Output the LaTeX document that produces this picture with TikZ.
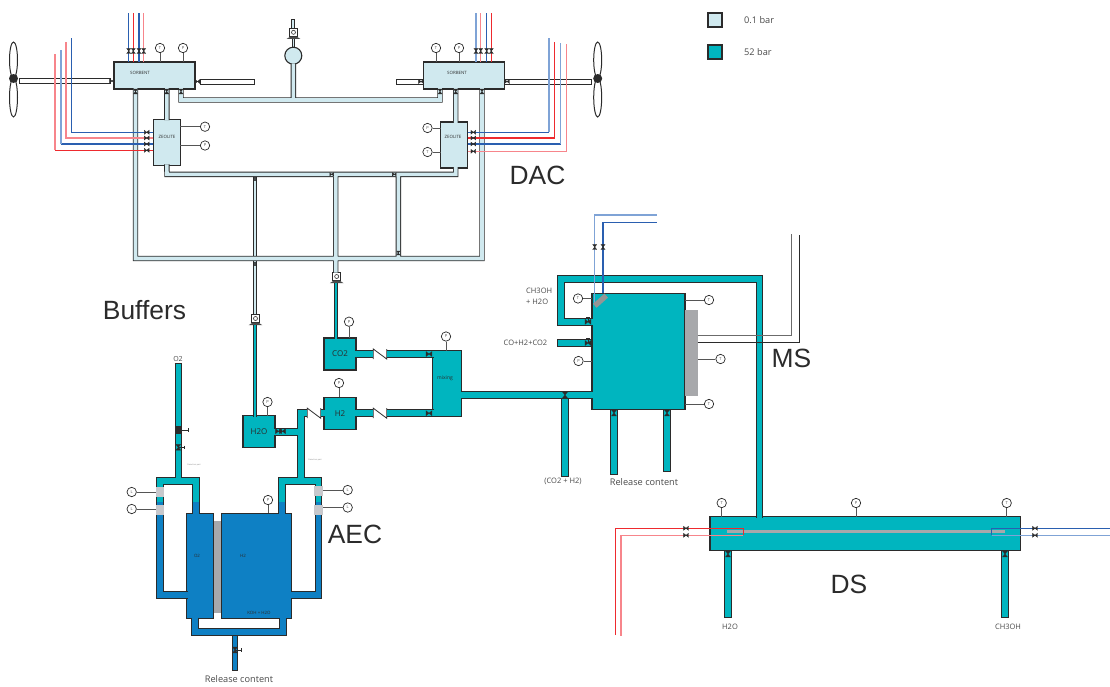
\documentclass[tikz,border=0pt]{standalone}
\usepackage{fontspec}
\setmainfont{Open Sans}
\newfontfamily\bigsans{Liberation Sans}
\usepackage{tikz}
\usetikzlibrary{shapes.geometric}

\definecolor{dark}{HTML}{2B2B2B}
\definecolor{palefill}{HTML}{D0E9EF}
\definecolor{tealfill}{HTML}{00B5BF}
\definecolor{cellblue}{HTML}{0E80C4}
\definecolor{platefill}{HTML}{A7A8AB}
\definecolor{bandfill}{HTML}{C7C8CC}
\definecolor{linkred}{HTML}{EE2A2E}
\definecolor{linkpink}{HTML}{F7858B}
\definecolor{linkblue}{HTML}{2A5FB0}
\definecolor{linksky}{HTML}{7FA3D6}
\definecolor{texthue}{HTML}{4A4A4A}

\tikzset{
  vessel/.style={rectangle, draw=dark, line width=1.1pt, inner sep=0pt, outer sep=0pt},
  palebox/.style={vessel, fill=palefill},
  tealbox/.style={vessel, fill=tealfill, text=dark, font=\fontsize{8}{9}\selectfont},
  bluebox/.style={vessel, fill=cellblue},
  shaftbox/.style={vessel, fill=white, line width=1pt},
  platebox/.style={rectangle, fill=platefill, inner sep=0pt, outer sep=0pt},
  bandbox/.style={rectangle, fill=bandfill, inner sep=0pt, outer sep=0pt},
  duct/.style={draw=dark, line width=1pt, double=#1, double distance=5.6pt},
  paleduct/.style={draw=dark, line width=0.9pt, double=palefill, double distance=3.6pt},
  palethin/.style={draw=dark, line width=0.8pt, double=palefill, double distance=1.6pt},
  tealthin/.style={draw=dark, line width=0.8pt, double=tealfill, double distance=2.8pt},
  bluethin/.style={draw=dark, line width=0.8pt, double=cellblue, double distance=3.6pt},
  tealdrain/.style={duct=tealfill, line cap=rect},
  sensor/.style={circle, draw=dark, line width=0.7pt, fill=white, minimum size=9.4pt, inner sep=0pt, font=\fontsize{4}{4}\selectfont, text=texthue},
  stem/.style={draw=dark!80, line width=0.8pt},
  checkbox/.style={rectangle, minimum width=13.4pt, minimum height=10pt, inner sep=0pt, outer sep=0pt},
  checkline/.style={draw=dark, line width=0.8pt},
  pumpbox/.style={rectangle, draw=dark, line width=0.8pt, fill=white, minimum size=8pt, inner sep=0pt, outer sep=0pt},
  blade/.style={ellipse, draw=dark, line width=1pt, fill=white, inner sep=0pt},
  hub/.style={circle, fill=dark, minimum size=9pt, inner sep=0pt},
  wire/.style={line width=1.1pt, draw=#1},
  tag/.style={inner sep=0pt, text=texthue, font=\fontsize{7.5}{8.5}\selectfont},
  relabel/.style={inner sep=0pt, text=texthue, font=\fontsize{9.2}{10}\selectfont},
  mini/.style={inner sep=0pt, text=dark, font=\fontsize{4.4}{5}\selectfont},
  speck/.style={inner sep=0pt, text=texthue!70, font=\fontsize{2}{2}\selectfont},
  title/.style={inner sep=0pt, text=dark, font=\bigsans\fontsize{26.4}{28}\selectfont},
  every pic/.style={draw=dark, fill=dark, line width=0.3pt},
  valveh/.pic={\filldraw[pic actions] (-2.4,-2) -- (-2.4,2) -- (2.4,-2) -- (2.4,2) -- cycle;},
  valvev/.pic={\filldraw[pic actions] (-2,-2.4) -- (2,-2.4) -- (-2,2.4) -- (2,2.4) -- cycle;},
  handup/.pic={\draw[pic actions] (0,0) -- (0,-5) (-1.8,-5) -- (1.8,-5);},
  handright/.pic={\draw[pic actions] (0,0) -- (6,0) (6,-1.8) -- (6,1.8);},
  pumpface/.pic={\draw[draw=dark, line width=0.6pt] (0,0) circle (2);
    \fill[dark!85] (-3,4.2) -- (3,4.2) -- (6.8,6.6) -- (-6.8,6.6) -- cycle;}
}

\begin{document}
\begin{tikzpicture}[x=1pt, y=-1pt]
\useasboundingbox (0,0) rectangle (1110,686);

\node[palebox, minimum size=14pt] (keyA) at (715,20) {};
\node[tealbox, minimum size=14pt] (keyB) at (715,52) {};
\node[relabel, anchor=west] (keyAtxt) at (744,20) {0.1 bar};
\node[relabel, anchor=west] (keyBtxt) at (744,52) {52 bar};

\node[title] (dacT) at (537.5,175) {DAC};
\node[title] (bufT) at (144.5,310) {Buffers};
\node[title] (aecT) at (355,534) {AEC};
\node[title] (msT) at (791.5,358) {MS};
\node[title] (dsT) at (849,584) {DS};

\node[blade, minimum width=8pt, minimum height=36pt] (bladeA) at (13.5,60) {};
\node[blade, minimum width=8pt, minimum height=39pt] (bladeB) at (13.5,97.5) {};
\node[blade, minimum width=8pt, minimum height=36pt] (bladeC) at (597.7,60) {};
\node[blade, minimum width=8pt, minimum height=39pt] (bladeD) at (597.7,97.5) {};
\node[hub] (hubL) at (13.5,78.5) {};
\node[hub] (hubR) at (597.7,78.5) {};
\node[shaftbox, minimum width=91pt, minimum height=5.4pt] (shaftA) at (64.5,80.7) {};
\node[shaftbox, minimum width=54pt, minimum height=5pt] (shaftB) at (227.5,82) {};
\node[shaftbox, minimum width=27pt, minimum height=4.6pt] (shaftC) at (409.5,81.7) {};
\node[shaftbox, minimum width=87pt, minimum height=4.6pt] (shaftD) at (548.3,81.7) {};

\draw[palethin] (255,174.3) -- (255,258.5);
\draw[palethin] (255,258.5) -- (255,314);
\draw[palethin] (293.3,36) -- (293.3,47);
\draw[draw=dark, line width=0.8pt, double=palefill, double distance=2.2pt, line cap=rect] (293.3,21) -- (293.3,29);

\draw[tealdrain] (565,394.7) -- (565,473);
\draw[tealdrain] (614,410) -- (614,471.2);
\draw[tealdrain] (667,410) -- (667,468.2);
\draw[tealdrain] (561,343) -- (592,343);
\draw[tealdrain] (728,550) -- (728,614.5);
\draw[tealdrain] (1005,550) -- (1005,614.5);
\draw[bluethin, line cap=rect] (235,634) -- (235,668.5);

\node[palebox, minimum width=81pt, minimum height=27pt] (sorbL) at (154.5,75.5) {};
\node[palebox, minimum width=81pt, minimum height=27pt] (sorbR) at (464.2,75.5) {};
\node[palebox, minimum width=27pt, minimum height=46pt] (zeoL) at (166.8,142.2) {};
\node[palebox, minimum width=27pt, minimum height=46pt] (zeoR) at (454.2,145) {};
\node[palebox, circle, minimum size=17pt] (sphere) at (293.3,55.7) {};
\node[mini] (sorbLtxt) at (140,73) {SORBENT};
\node[mini] (sorbRtxt) at (457,73) {SORBENT};
\node[mini] (zeoLtxt) at (167,137) {ZEOLITE};
\node[mini] (zeoRtxt) at (453,137) {ZEOLITE};

\node[tealbox, minimum width=32pt, minimum height=32pt] (co2) at (340,354) {CO2};
\node[tealbox, minimum width=32pt, minimum height=32pt] (h2) at (340,413.2) {H2};
\node[tealbox, minimum width=32pt, minimum height=32pt] (h2o) at (259,431.7) {H2O};
\node[tealbox, minimum width=28.6pt, minimum height=66pt] (mix) at (447,383.7) {};
\node[tealbox, minimum width=93pt, minimum height=116.4pt] (msr) at (638.5,351.5) {};
\node[tealbox, minimum width=310.7pt, minimum height=33.6pt] (dsc) at (865.3,533.5) {};
\node[bluebox, minimum width=26.6pt, minimum height=105pt] (o2c) at (200,565.8) {};
\node[bluebox, minimum width=70pt, minimum height=105pt] (h2c) at (256.7,565.8) {};
\node[platebox, minimum width=7.6pt, minimum height=92pt] (memb) at (217.4,566.7) {};
\node[mini, font=\fontsize{5}{6}\selectfont] (mixtxt) at (445,378) {mixing};
\node[mini] (o2ctxt) at (197,556) {O2};
\node[mini] (h2ctxt) at (243,556) {H2};
\node[mini] (kohtxt) at (259,613) {KOH + H2O};

\node[checkbox] (cvA) at (380,354) {};
\node[checkbox] (cvB) at (380,413.2) {};
\node[checkbox] (cvC) at (314,413.2) {};
\draw[checkline] (cvA.south west) -- (cvA.north west) -- (cvA.south east) -- (cvA.north east);
\draw[checkline] (cvB.south west) -- (cvB.north west) -- (cvB.south east) -- (cvB.north east);
\draw[checkline] (cvC.south west) -- (cvC.north west) -- (cvC.south east) -- (cvC.north east);

\node[pumpbox] (pumpT) at (293.5,32.3) {};
\node[pumpbox] (pumpA) at (255.5,318.5) {};
\node[pumpbox] (pumpB) at (336.7,276.5) {};
\pic at (pumpT) {pumpface};
\pic at (pumpA) {pumpface};
\pic at (pumpB) {pumpface};

\draw[paleduct] (sorbL.south -| 135.5,0) ++(0,-0.8) -- (135.5,258.5) -- (482,258.5) -- (sorbR.south -| 482,0) -- ++(0,-0.8)
  (zeoL.south) ++(0,-0.8) -- (167,174.3) -- (455.7,174.3) -- (zeoR.south -| 455.7,0) -- ++(0,-0.8)
  (335.7,174.3) -- (335.7,258.5) -- (pumpB.north -| 335.7,0)
  (398.3,174.3) -- (398.3,258.5)
  (sorbL.south -| 181,0) ++(0,-0.8) -- (181,100) -- (440,100) -- (sorbR.south -| 440,0) -- ++(0,-0.8)
  (sphere.south) ++(0,-0.8) -- (293.3,100)
  (sorbL.south -| zeoL.north) ++(0,-0.8) -- (zeoL.north) -- ++(0,0.8)
  (sorbR.south -| 455.7,0) ++(0,-0.8) -- (zeoR.north -| 455.7,0) -- ++(0,0.8);

\draw[tealthin] (pumpA.south) ++(-0.5,2.5) -- (h2o.north -| 255,0) -- ++(0,0.8);
\draw[tealthin] (pumpB.south) ++(-0.7,2.5) -- (co2.north -| 336,0) -- ++(0,0.8);

\draw[duct=tealfill] (co2.east) ++(-0.8,0) -- (cvA.west)
  (cvA.east) -- (cvA.east -| mix.west) -- ++(0.8,0)
  (h2.east) ++(-0.8,0) -- (cvB.west)
  (cvB.east) -- (cvB.east -| mix.west) -- ++(0.8,0)
  (h2.west) ++(0.8,0) -- (cvC.east)
  (mix.east |- 0,394.7) ++(-0.8,0) -- (msr.west |- 0,394.7) -- ++(0.8,0)
  (msr.west |- 0,321.8) ++(0.8,0) -- (561,321.8) -- (561,279) -- (759.5,279) -- (dsc.north -| 759.5,0) -- ++(0,0.8)
  (178.3,363.5) -- (178.3,481)
  (160,502) -- (160,481) -- (196,481) -- (196,502)
  (cvC.west) -- (300.7,413.2) -- (300.7,481)
  (h2o.east) ++(-0.8,0) -- (h2o.east -| 300.7,0)
  (281.7,502) -- (281.7,481) -- (318.5,481) -- (318.5,502);
\draw[draw=dark, line width=1pt] (174.5,363.5) -- (182.1,363.5);

\draw[duct=cellblue] (160,502) -- (160,595) -- (o2c.west |- 0,595) -- ++(0.8,0)
  (196,502) -- (o2c.north -| 196,0) -- ++(0,0.8)
  (281.7,502) -- (h2c.north -| 281.7,0) -- ++(0,0.8)
  (318.5,502) -- (318.5,595) -- (h2c.east |- 0,595) -- ++(-0.8,0)
  (o2c.south -| 194.7,0) ++(0,-0.8) -- (194.7,631.8) -- (283,631.8) -- (h2c.south -| 283,0) -- ++(0,-0.8);

\node[bandbox, minimum width=8.4pt, minimum height=10pt] (bandA) at (160,492) {};
\node[bandbox, minimum width=8.4pt, minimum height=10pt] (bandB) at (160,510) {};
\node[bandbox, minimum width=8.6pt, minimum height=10pt] (bandC) at (318.4,490.7) {};
\node[bandbox, minimum width=8.6pt, minimum height=10pt] (bandD) at (318.4,510) {};

\node[platebox, minimum width=12.6pt, minimum height=86pt] (plate) at (691.3,353) {};
\node[platebox, minimum width=278.3pt, minimum height=3.4pt] (rod) at (865.8,531.7) {};

\draw[wire=linkblue] (zeoL.west |- 0,132.3) -- (71.7,132.3) -- (71.7,38.3);
\draw[wire=linkpink] (zeoL.west |- 0,138) -- (66,138) -- (66,42);
\draw[wire=linkblue] (zeoL.west |- 0,144) -- (61,144);
\draw[wire=linksky] (61,144) -- (61,50);
\draw[wire=linkred] (zeoL.west |- 0,150.3) -- (55,150.3);
\draw[wire=linkpink] (55,150.3) -- (55,54);
\draw[wire=linkblue] (zeoR.east |- 0,132.3) -- (549,132.3);
\draw[wire=linksky] (549,132.3) -- (549,38.3);
\draw[wire=linkred] (zeoR.east |- 0,138) -- (554.7,138) -- (554.7,42);
\draw[wire=linkblue] (zeoR.east |- 0,144) -- (560.7,144);
\draw[wire=linksky] (560.7,144) -- (560.7,43);
\draw[wire=linkpink] (zeoR.east |- 0,151.3) -- (566.7,151.3) -- (566.7,44);

\draw[wire=linkblue] (sorbL.north -| 128.7,0) -- (128.7,12.7);
\draw[wire=linkred] (sorbL.north -| 133.3,0) -- (133.3,12.7);
\draw[wire=linkblue] (sorbL.north -| 139,0) -- (139,12.7);
\draw[wire=linkpink] (sorbL.north -| 143.7,0) -- (143.7,12.7);
\draw[wire=linksky] (sorbR.north -| 476,0) -- (476,12.7);
\draw[wire=linkpink] (sorbR.north -| 480.7,0) -- (480.7,12.7);
\draw[wire=linkblue] (sorbR.north -| 486.7,0) -- (486.7,12.7);
\draw[wire=linkred] (sorbR.north -| 491.3,0) -- (491.3,12.7);

\draw[wire=linksky] (msr.north -| 594.7,0) ++(0,10) -- (594.7,215) -- (656.7,215);
\draw[wire=linkblue] (msr.north -| 603,0) -- (603,222.7) -- (656.7,222.7);
\draw[line width=5.4pt, draw=dark!50] (594.8,305.8) -- (606.2,295.6);

\draw[wire=linkred] (615.3,635) -- (615.3,528.3) -- (743.3,528.3) -- (743.3,535.3);
\draw[wire=linkpink] (743.3,535.3) -- (621,535.3) -- (621,636);
\draw[wire=linkblue] (1110,528.3) -- (991.7,528.3) -- (991.7,535.3);
\draw[wire=linksky] (991.7,535.3) -- (1110,535.3);

\draw[draw=dark!70, line width=0.9pt] (plate.east |- 0,335.7) -- (791,335.7) -- (791,234);
\draw[draw=dark, line width=0.9pt] (plate.east |- 0,342) -- (799.3,342) -- (799.3,235);

\pic at (135.5,91.5) {valvev};
\pic at (166.7,91.5) {valvev};
\pic at (181,91.5) {valvev};
\pic at (440,91.5) {valvev};
\pic at (455.7,91.5) {valvev};
\pic at (482,91.5) {valvev};
\pic[scale=0.7] at (255,179) {valvev};
\pic[scale=0.7] at (255,264) {valvev};
\pic[scale=0.8] at (398.3,253) {valvev};
\pic[scale=0.8] at (331.7,174.3) {valveh};
\pic[scale=0.8] at (394.3,174.3) {valveh};
\pic at (112,81) {valveh};
\pic at (197.5,81.5) {valveh};
\pic at (421,81.5) {valveh};
\pic at (507,81.5) {valveh};

\pic at (128.7,51) {valvev};
\pic at (133.3,51) {valvev};
\pic at (139,51) {valvev};
\pic at (143.7,51) {valvev};
\pic at (476,51) {valvev};
\pic at (480.7,51) {valvev};
\pic at (486.7,51) {valvev};
\pic at (491.3,51) {valvev};
\pic at (146.7,132.3) {valveh};
\pic at (146.7,138) {valveh};
\pic at (146.7,144) {valveh};
\pic at (146.7,150.3) {valveh};
\pic at (473.3,132.3) {valveh};
\pic at (473.3,138) {valveh};
\pic at (473.3,144) {valveh};
\pic at (473.3,151.3) {valveh};
\pic at (686,528.3) {valveh};
\pic at (686,535.3) {valveh};
\pic at (1035,528.3) {valveh};
\pic at (1035,535.3) {valveh};
\pic[draw=linkblue, fill=linkblue] at (594.7,247) {valvev};
\pic[draw=linkblue, fill=linkblue] at (603,247) {valvev};

\pic[scale=1.2] at (429,354) {valveh};
\pic[scale=1.2] at (429,413.2) {valveh};
\pic[scale=1.2] at (278.5,431.2) {valveh};
\pic[scale=1.2] at (282.5,431.2) {valveh};
\pic[scale=1.2] at (565,395) {valvev};
\pic[scale=1.2] at (614,413) {valvev};
\pic[scale=1.2] at (667,413) {valvev};
\pic[scale=1.2] at (728,554) {valvev};
\pic[scale=1.2] at (1005,554) {valvev};
\pic[scale=1.2] at (588,321.8) {valveh};
\pic at (588,321.8) {handup};
\pic[scale=1.2] at (588,343) {valveh};
\pic at (588,343) {handup};
\pic[scale=1.2] at (178.3,447.3) {valvev};
\pic at (178.3,447.3) {handright};
\pic[scale=1.2] at (235,650) {valvev};
\pic at (235,650) {handright};
\node[rectangle, fill=dark, minimum width=7.6pt, minimum height=8pt, inner sep=0pt] (blockO) at (178.3,430) {};
\pic at (blockO.east) {handright};

\node[sensor] (tA) at (160,48) {T};
\node[sensor] (pA) at (183,48) {P};
\node[sensor] (tB) at (436,48) {T};
\node[sensor] (pB) at (459,48) {P};
\node[sensor] (tC) at (205,126.7) {T};
\node[sensor] (pC) at (205,145.5) {P};
\node[sensor] (pD) at (427.5,128) {P};
\node[sensor] (tD) at (427.5,152) {T};
\draw[stem] (tA) -- (tA |- sorbL.north);
\draw[stem] (pA) -- (pA |- sorbL.north);
\draw[stem] (tB) -- (tB |- sorbR.north);
\draw[stem] (pB) -- (pB |- sorbR.north);
\draw[stem] (tC) -- (tC -| zeoL.east);
\draw[stem] (pC) -- (pC -| zeoL.east);
\draw[stem] (pD) -- (pD -| zeoR.west);
\draw[stem] (tD) -- (tD -| zeoR.west);

\node[sensor] (pE) at (349,321.7) {P};
\node[sensor] (pF) at (339,383) {P};
\node[sensor] (pG) at (267.5,402) {P};
\node[sensor] (pH) at (446,336.5) {P};
\node[sensor] (pI) at (268,500) {P};
\draw[stem] (pE) -- (pE |- co2.north);
\draw[stem] (pF) -- (pF |- h2.north);
\draw[stem] (pG) -- (pG |- h2o.north);
\draw[stem] (pH) -- (pH |- mix.north);
\draw[stem] (pI) -- (pI |- h2c.north);

\node[sensor] (lA) at (131.7,492) {L};
\node[sensor] (lB) at (131.7,509) {L};
\node[sensor] (lC) at (347.7,490) {L};
\node[sensor] (lD) at (347.7,507.5) {L};
\draw[stem] (lA) -- (lA -| bandA.west);
\draw[stem] (lB) -- (lB -| bandB.west);
\draw[stem] (lC) -- (lC -| bandC.east);
\draw[stem] (lD) -- (lD -| bandD.east);

\node[sensor] (tE) at (578,298.5) {T};
\node[sensor] (pJ) at (578.5,361) {P};
\node[sensor] (tF) at (709,300) {T};
\node[sensor] (tG) at (720.5,359) {T};
\node[sensor] (tH) at (709,404) {T};
\draw[stem] (tE) -- (tE -| msr.west);
\draw[stem] (pJ) -- (pJ -| msr.west);
\draw[stem] (tF) -- (tF -| msr.east);
\draw[stem] (tG) -- (tG -| plate.east);
\draw[stem] (tH) -- (tH -| msr.east);

\node[sensor] (tI) at (721.7,503) {T};
\node[sensor] (pK) at (856,503) {P};
\node[sensor] (tJ) at (1006.7,503) {T};
\draw[stem] (tI) -- (tI |- dsc.north);
\draw[stem] (pK) -- (pK |- dsc.north);
\draw[stem] (tJ) -- (tJ |- dsc.north);

\node[tag, font=\fontsize{7}{8}\selectfont] (o2top) at (178,359) {O2};
\node[speck] (dotA) at (194,465) {Detection part};
\node[speck] (dotB) at (315,460) {Detection part};
\node[relabel] (relA) at (239,679) {Release content};
\node[relabel] (relB) at (644,482.5) {Release content};
\node[tag] (mixout) at (563,481) {(CO2 + H2)};
\node[tag] (feed) at (525.5,343) {CO+H2+CO2};
\node[tag, anchor=west] (prodA) at (526,291) {CH3OH};
\node[tag, anchor=west] (prodB) at (526,301.5) {+ H2O};
\node[tag] (bottomA) at (730,627) {H2O};
\node[tag] (bottomB) at (1008,627) {CH3OH};
\end{tikzpicture}
\end{document}
